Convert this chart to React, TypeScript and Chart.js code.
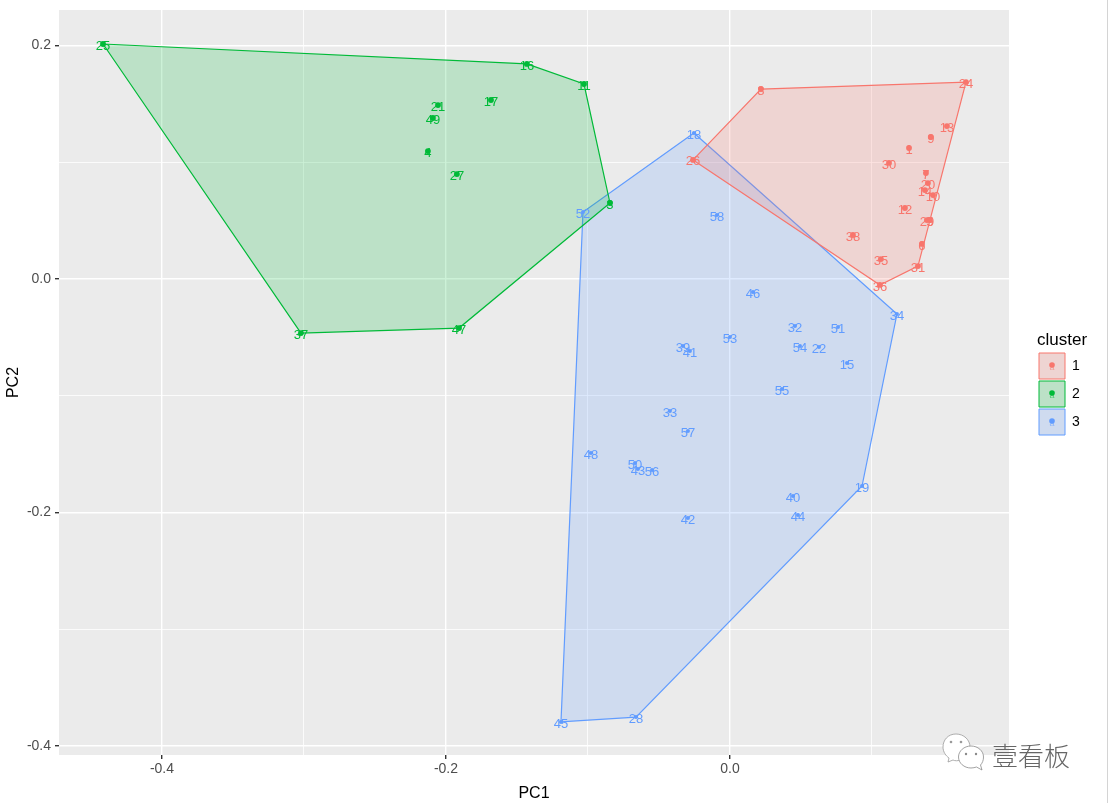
import React, { useEffect, useRef } from "react";
import { Chart, registerables } from "chart.js";

Chart.register(...registerables);

const FONT = '"Liberation Sans", Arial, sans-serif';

const clusterNames = ["1", "2", "3"];
const clusterColors = ["#F8766D", "#00BA38", "#619CFF"];
const clusterFills = ["rgba(248,118,109,0.2)", "rgba(0,186,56,0.2)", "rgba(97,156,255,0.2)"];
const legendFills = ["#EED4D2", "#BCE1C7", "#CFDBEF"];

const labels1 = ["26", "8", "24", "13", "9", "1", "30", "7", "20", "14", "10", "12", "29", "5", "6", "31", "38", "35", "36"];
const pc1c1 = [-0.026, 0.0218, 0.1662, 0.1528, 0.1415, 0.1261, 0.112, 0.138, 0.1394, 0.1373, 0.143, 0.1232, 0.1387, 0.1408, 0.1352, 0.1324, 0.0866, 0.1063, 0.1056];
const pc2c1 = [0.102, 0.1627, 0.1687, 0.131, 0.1216, 0.1122, 0.0994, 0.0908, 0.0822, 0.0762, 0.0719, 0.0608, 0.0505, 0.0505, 0.03, 0.0111, 0.0377, 0.0171, -0.0051];
const hull1 = ["26", "8", "24", "31", "36", "26"];

const labels2 = ["25", "16", "11", "3", "47", "37", "21", "49", "17", "4", "27"];
const pc1c2 = [-0.4415, -0.143, -0.1028, -0.0845, -0.1908, -0.3021, -0.2056, -0.2092, -0.1683, -0.2127, -0.1923];
const pc2c2 = [0.2013, 0.1842, 0.167, 0.0651, -0.042, -0.0463, 0.149, 0.1379, 0.1533, 0.1096, 0.0899];
const hull2 = ["25", "16", "11", "3", "47", "37", "25"];

const labels3 = ["18", "34", "19", "28", "45", "52", "58", "46", "32", "51", "53", "39", "41", "54", "22", "15", "55", "33", "57", "48", "50", "43", "56", "40", "42", "44"];
const pc1c3 = [-0.0254, 0.1176, 0.093, -0.0662, -0.119, -0.1035, -0.0092, 0.0162, 0.0458, 0.0761, 0, -0.0331, -0.0282, 0.0493, 0.0627, 0.0824, 0.0366, -0.0423, -0.0296, -0.0979, -0.0669, -0.0648, -0.0549, 0.0444, -0.0296, 0.0479];
const pc2c3 = [0.1251, -0.03, -0.1773, -0.3752, -0.3794, 0.0574, 0.0548, -0.0111, -0.0403, -0.0411, -0.0497, -0.0574, -0.0617, -0.0574, -0.0582, -0.0719, -0.0942, -0.1131, -0.1302, -0.149, -0.1576, -0.1627, -0.1636, -0.1859, -0.2047, -0.2021];
const hull3 = ["18", "34", "19", "28", "45", "52", "18"];

const xTicks = [-0.4, -0.3, -0.2, -0.1, 0, 0.1];
const yTicks = [-0.4, -0.3, -0.2, -0.1, 0, 0.1, 0.2];
const majorTicks = [-0.4, -0.2, 0, 0.2];

const isMajor = (v: number) => majorTicks.some((m) => Math.abs(m - v) < 1e-6);
const fmt = (v: number) => (isMajor(v) ? (Math.abs(v) < 1e-6 ? "0.0" : v.toFixed(1)) : "");

const clusters = [
  { labels: labels1, xs: pc1c1, ys: pc2c1, hull: hull1 },
  { labels: labels2, xs: pc1c2, ys: pc2c2, hull: hull2 },
  { labels: labels3, xs: pc1c3, ys: pc2c3, hull: hull3 },
];

const panelPlugin = {
  id: "panel",
  beforeLayout(chart: any) {
    const lg = chart.legend;
    if (lg && !lg.__wrapped) {
      const orig = lg.fit.bind(lg);
      lg.fit = () => {
        orig();
        lg.width = 99;
      };
      lg.__wrapped = true;
    }
  },
  afterLayout(chart: any) {
    const lg = chart.legend;
    lg.left = 1037;
    lg.right = 1108;
    lg.top = 332;
  },
  beforeDraw(chart: any) {
    const { ctx, chartArea: a } = chart;
    ctx.save();
    ctx.fillStyle = "#EBEBEB";
    ctx.fillRect(a.left, a.top, a.right - a.left, a.bottom - a.top);
    ctx.fillStyle = "#D4D4D4";
    ctx.fillRect(1107, 0, 1, 803);
    ctx.restore();
  },
  afterDatasetsDraw(chart: any) {
    const { ctx, scales } = chart;
    ctx.save();
    ctx.font = `13px ${FONT}`;
    ctx.textAlign = "center";
    ctx.textBaseline = "middle";
    clusters.forEach((c, i) => {
      ctx.fillStyle = clusterColors[i];
      c.labels.forEach((t, k) => {
        ctx.fillText(t, scales.x.getPixelForValue(c.xs[k]), scales.y.getPixelForValue(c.ys[k]) + 2);
      });
    });
    ctx.restore();
  },
  afterDraw(chart: any) {
    const { ctx, legend } = chart;
    ctx.save();
    legend.legendHitBoxes.forEach((b: any, i: number) => {
      const cx = b.left + 13;
      const cy = b.top + 13;
      ctx.fillStyle = clusterColors[i];
      ctx.beginPath();
      ctx.arc(cx, cy - 1, 2.8, 0, Math.PI * 2);
      ctx.fill();
      ctx.globalAlpha = 0.6;
      ctx.font = `9px ${FONT}`;
      ctx.textAlign = "center";
      ctx.textBaseline = "middle";
      ctx.fillText("a", cx, cy + 2);
      ctx.globalAlpha = 1;
    });
    ctx.restore();
  },
};

export default function App() {
  const ref = useRef<HTMLCanvasElement>(null);
  useEffect(() => {
    document.body.style.margin = "0";
    const hullDatasets = clusters.map((c, i) => ({
      type: "scatter" as const,
      label: `hull ${clusterNames[i]}`,
      data: c.hull.map((t) => {
        const k = c.labels.indexOf(t);
        return { x: c.xs[k], y: c.ys[k] };
      }),
      showLine: true,
      fill: "shape",
      tension: 0,
      borderColor: clusterColors[i],
      borderWidth: 1.2,
      backgroundColor: clusterFills[i],
      pointRadius: 0,
      order: 3,
    }));
    const pointDatasets = clusters.map((c, i) => ({
      type: "scatter" as const,
      label: clusterNames[i],
      data: c.xs.map((x, k) => ({ x, y: c.ys[k] })),
      showLine: false,
      backgroundColor: clusterColors[i],
      borderColor: clusterColors[i],
      borderWidth: 0,
      pointRadius: i === 2 ? 2 : 2.9,
      order: 1,
    }));
    const gridColor = "#FFFFFF";
    const chart = new Chart(ref.current as HTMLCanvasElement, {
      type: "scatter",
      data: { datasets: [...hullDatasets, ...pointDatasets] as any },
      plugins: [panelPlugin],
      options: {
        animation: false,
        responsive: false,
        layout: { padding: { top: 10, left: 0, right: 0, bottom: 0 } },
        plugins: {
          tooltip: { enabled: false },
          legend: {
            display: true,
            position: "right",
            align: "start",
            fullSize: false,
            title: {
              display: true,
              text: "cluster",
              color: "#000000",
              position: "start",
              font: { family: FONT, size: 17, lineHeight: 1 },
              padding: { top: 0, bottom: 2 },
            },
            labels: {
              boxWidth: 26,
              boxHeight: 26,
              padding: 2,
              color: "#000000",
              font: { family: FONT, size: 14 },
              generateLabels: () =>
                clusterNames.map((n, i) => ({
                  text: n,
                  fillStyle: legendFills[i],
                  strokeStyle: clusterColors[i],
                  lineWidth: 1,
                  hidden: false,
                  datasetIndex: i,
                })),
            },
          },
        },
        scales: {
          x: {
            type: "linear",
            min: -0.4725,
            max: 0.1965,
            afterBuildTicks: (s: any) => {
              s.ticks = xTicks.map((value) => ({ value, major: isMajor(value) }));
            },
            afterFit: (s: any) => {
              s.height = 48;
              s.paddingLeft = 0;
              s.paddingRight = 0;
            },
            grid: {
              color: gridColor,
              lineWidth: (c: any) => (isMajor(c.tick.value) ? 1.4 : 0.8),
              tickColor: (c: any) => (isMajor(c.tick.value) ? "#333333" : "rgba(0,0,0,0)"),
              tickLength: 4,
              drawTicks: true,
            },
            border: { display: false },
            ticks: {
              autoSkip: false,
              maxRotation: 0,
              color: "#4D4D4D",
              padding: 2,
              font: { family: FONT, size: 14 },
              callback: (v: any) => fmt(Number(v)),
            },
            title: {
              display: true,
              text: "PC1",
              color: "#000000",
              font: { family: FONT, size: 16 },
              padding: { top: 0, bottom: 0 },
            },
          },
          y: {
            type: "linear",
            min: -0.4077,
            max: 0.2304,
            afterBuildTicks: (s: any) => {
              s.ticks = yTicks.map((value) => ({ value, major: isMajor(value) }));
            },
            afterFit: (s: any) => {
              s.width = 59;
              s.paddingTop = 0;
              s.paddingBottom = 0;
            },
            grid: {
              color: gridColor,
              lineWidth: (c: any) => (isMajor(c.tick.value) ? 1.4 : 0.8),
              tickColor: (c: any) => (isMajor(c.tick.value) ? "#333333" : "rgba(0,0,0,0)"),
              tickLength: 4,
              drawTicks: true,
            },
            border: { display: false },
            ticks: {
              autoSkip: false,
              color: "#4D4D4D",
              padding: 4,
              font: { family: FONT, size: 14 },
              callback: (v: any) => fmt(Number(v)),
            },
            title: {
              display: true,
              text: "PC2",
              color: "#000000",
              font: { family: FONT, size: 16 },
              padding: { top: 4, bottom: 0 },
            },
          },
        },
      } as any,
    });
    return () => chart.destroy();
  }, []);

  return (
    <div style={{ position: "absolute", left: 0, top: 0, width: 1108, height: 803 }}>
      <canvas ref={ref} width={1108} height={803} style={{ display: "block" }} />
      <svg width={50} height={44} style={{ position: "absolute", left: 938, top: 730 }} viewBox="0 0 50 44">
        <path
          d="M18 4 C10 4 5 10 5 17 C5 22 8 26 11 28 L10 32 L15 30 C17 31 20 31 22 30 C29 29 32 23 32 17 C32 10 26 4 18 4 Z"
          fill="#FFFFFF"
          stroke="#9A9A9A"
          strokeWidth="0.8"
        />
        <path
          d="M33 16 C26 16 20.5 21 20.5 27 C20.5 33 26 38 33 38 C35 38 37 37.5 38.5 37 L44 40 L42.5 35 C44.5 33 45.5 30 45.5 27 C45.5 21 40 16 33 16 Z"
          fill="#FFFFFF"
          stroke="#8A8A8A"
          strokeWidth="0.8"
        />
        <circle cx="13" cy="12" r="1.3" fill="#9A9A9A" />
        <circle cx="23" cy="12" r="1.3" fill="#9A9A9A" />
        <circle cx="28" cy="24" r="1.2" fill="#8A8A8A" />
        <circle cx="38" cy="24" r="1.2" fill="#8A8A8A" />
      </svg>
      <div
        style={{
          position: "absolute",
          left: 992,
          top: 736,
          fontFamily: '"Noto Sans CJK SC"',
          fontWeight: 300,
          fontSize: 26,
          lineHeight: "38px",
          color: "#666666",
          whiteSpace: "nowrap",
        }}
      >
        壹看板
      </div>
    </div>
  );
}
